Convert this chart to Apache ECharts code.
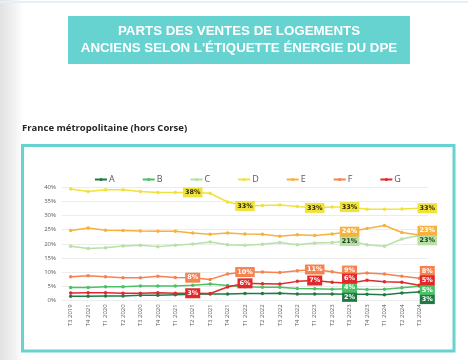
<!DOCTYPE html>
<html><head><meta charset="utf-8">
<script src="https://cdn.jsdelivr.net/npm/echarts@6/dist/echarts.min.js"></script>
<style>
html,body{margin:0;padding:0;width:468px;height:360px;overflow:hidden;background:linear-gradient(to right,#e2e2e2 0px,#efefef 12px,#ffffff 24px);}
#c{width:468px;height:360px;}
</style></head><body><div id="c"></div>
<script>
const categories = ['T3 2019','T4 2021','T1 2020','T2 2020','T3 2020','T4 2020','T1 2021','T2 2021','T3 2021','T4 2021','T1 2022','T2 2022','T3 2022','T4 2022','T1 2023','T2 2023','T3 2023','T4 2023','T1 2024','T2 2024','T3 2024'];
const yTicks = [0,5,10,15,20,25,30,35,40];
const seriesNames = ['A','B','C','D','E','F','G'];
const valA = [1.4,1.4,1.5,1.5,1.8,1.8,2.0,2.1,2.2,2.2,2.4,2.4,2.5,2.2,2.2,2.2,2.1,2.1,2.0,2.6,2.9];
const valB = [4.5,4.5,4.8,4.8,5.1,5.1,5.1,5.3,5.8,5.2,4.8,4.6,4.6,4.2,4.1,3.9,4.1,3.8,3.9,4.4,5.0];
const valC = [19.1,18.3,18.6,19.2,19.5,19.0,19.5,19.9,20.6,19.7,19.5,19.8,20.5,19.7,20.3,20.5,21.0,19.7,19.1,21.7,22.9];
const valD = [39.4,38.5,39.1,39.1,38.5,38.2,38.2,38.2,37.9,34.8,33.4,33.6,33.7,33.2,32.7,33.0,33.0,32.2,32.2,32.3,32.6];
const valE = [24.7,25.6,24.8,24.7,24.5,24.4,24.4,23.8,23.4,23.8,23.5,23.4,22.7,23.2,22.9,23.5,24.3,25.4,26.5,24.0,23.1];
const valF = [8.3,8.7,8.3,8.0,8.0,8.5,8.1,8.0,7.4,9.3,10.0,10.0,9.8,10.5,10.9,10.1,9.1,9.7,9.3,8.5,7.8];
const valG = [2.6,2.7,2.7,2.5,2.5,2.7,2.5,2.5,2.4,4.7,6.0,5.9,5.8,6.7,7.0,6.4,6.0,7.1,6.6,6.4,5.3];
const labelledIdx = {A:[16,20],B:[16,20],C:[16,20],D:[7,10,14,16,20],E:[16,20],F:[7,10,14,16,20],G:[7,10,14,16,20]};

// styles
const colors = {A:'#1f7a44',B:'#4cc064',C:'#b6e0a4',D:'#f0e23a',E:'#f6b23c',F:'#f5834f',G:'#e0292b'};
const labelText = {A:'#ffffff',B:'#ffffff',C:'#1e3a1e',D:'#2a2a00',E:'#ffffff',F:'#ffffff',G:'#ffffff'};
const labelOffset = {
  A:{16:[0,2.5],20:[8,7]}, B:{16:[0,-1],20:[8,3.7]}, C:{16:[0,0],20:[8,4.7]},
  D:{20:[8,0]}, E:{16:[0,0],20:[8,-4.3]}, F:{16:[0,-4],20:[8,-7.3]}, G:{16:[0,-4.7],20:[8,-5]}
};
const allVals = {A:valA,B:valB,C:valC,D:valD,E:valE,F:valF,G:valG};

const series = seriesNames.map(n => ({
  name:n, type:'line', symbol:'circle', symbolSize:3.5,
  itemStyle:{color:colors[n]}, lineStyle:{color:colors[n], width:1.5},
  emphasis:{disabled:true},
  data: allVals[n].map((v,i) => {
    if (labelledIdx[n].indexOf(i) < 0) return v;
    const off = (labelOffset[n] && labelOffset[n][i]) || [0,0];
    return {value:v, label:{show:true, position:'inside', offset:off,
      formatter: p => Math.round(p.value) + '%',
      backgroundColor:colors[n], color:labelText[n], fontSize:6.5, fontWeight:'bold',
      fontFamily:'DejaVu Sans', padding:[1.5,2]}};
  })
}));

const chart = echarts.init(document.getElementById('c'), null, {renderer:'canvas'});
chart.setOption({
  animation:false,
  backgroundColor:'transparent',
  graphic:[
    {type:'rect', shape:{x:0,y:1,width:468,height:2}, style:{fill:'#e3f0fb'}},
    {type:'rect', shape:{x:68,y:16,width:342,height:48}, style:{fill:'#66d3d1'}},
    {type:'text', x:239, y:40, style:{text:"PARTS DES VENTES DE LOGEMENTS\nANCIENS SELON L'ÉTIQUETTE ÉNERGIE DU DPE", fill:'#ffffff', font:'bold 13.3px "Liberation Sans"', align:'center', verticalAlign:'middle', lineHeight:17}},
    {type:'text', x:22, y:128, style:{text:'France métropolitaine (hors Corse)', fill:'#262626', font:'bold 9.5px "Open Sans"', verticalAlign:'middle'}},
    {type:'rect', shape:{x:22.5,y:145.5,width:431.5,height:205.5}, style:{fill:'#ffffff', stroke:'#66d3d1', lineWidth:3}, z:-10}
  ],
  legend:{
    data:seriesNames, left:89, top:170, itemWidth:12, itemHeight:4, itemGap:27,
    textStyle:{color:'#595959', fontSize:9, fontFamily:'Open Sans', padding:[0,0,0,-3]}
  },
  grid:{left:62, right:40, top:187.3, bottom:59.7},
  xAxis:{type:'category', data:categories, boundaryGap:true,
    axisLine:{show:false}, axisTick:{show:false},
    axisLabel:{rotate:90, fontSize:6, color:'#595959', margin:4, interval:0, fontFamily:'Open Sans'}},
  yAxis:{type:'value', min:yTicks[0], max:yTicks[yTicks.length-1], interval:5,
    axisLine:{show:false}, axisTick:{show:false},
    axisLabel:{formatter:'{value}%', fontSize:6, color:'#595959', margin:6, fontFamily:'Open Sans'},
    splitLine:{lineStyle:{color:'#ececec', width:1}}},
  series:series
});
</script></body></html>
